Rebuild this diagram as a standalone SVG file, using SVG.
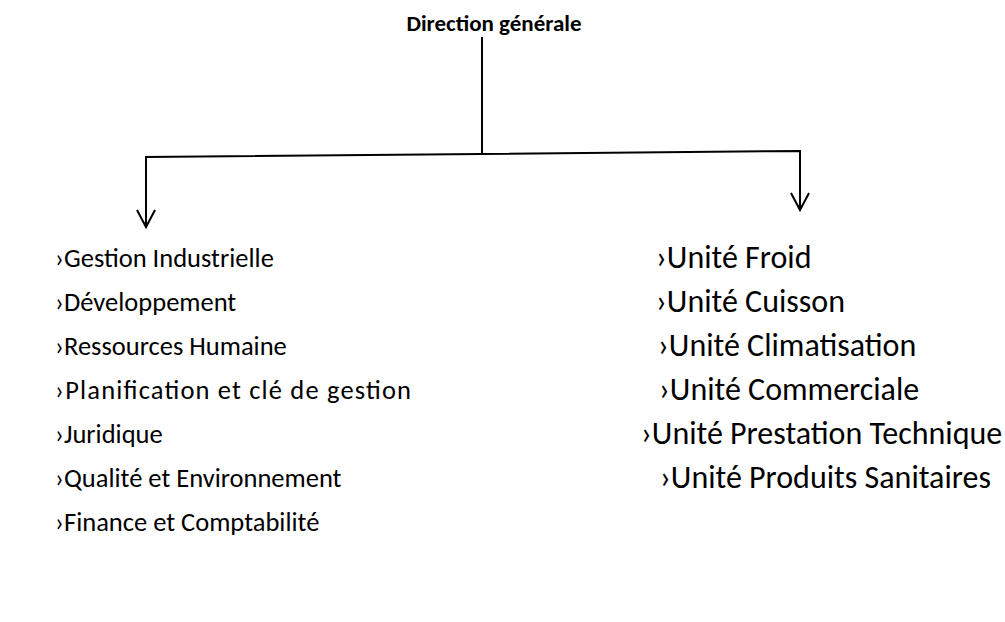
<svg xmlns="http://www.w3.org/2000/svg" width="1005" height="622" viewBox="0 0 1005 622">
<style>
.t{font-family:Carlito,"Open Sans","Liberation Sans",sans-serif;font-size:26.5px;fill:#000}
.r{font-size:32px}
.h{font-family:Carlito,"Open Sans","Liberation Sans",sans-serif;font-size:23px;font-weight:bold;fill:#000}
.c{stroke:#000;stroke-width:2;fill:none}
</style>
<rect width="1005" height="622" fill="#fff"/>
<g id="root"><text class="h" x="494" y="31" text-anchor="middle">Direction générale</text></g>
<g id="connectors">
<path class="c" d="M482 37 V154"/>
<path class="c" d="M146 227 V157 L800 151 V210"/>
<path class="c" d="M137 210 L146 227 L155 210"/>
<path class="c" d="M791 193 L800 210 L809 193"/>
</g>
<g id="left">
<text class="t" x="55" y="267">›Gestion Industrielle</text>
<text class="t" x="55" y="311">›Développement</text>
<text class="t" x="55" y="355">›Ressources Humaine</text>
<text class="t" x="55" y="399" textLength="356" lengthAdjust="spacing">›Planification et clé de gestion</text>
<text class="t" x="55" y="443">›Juridique</text>
<text class="t" x="55" y="487">›Qualité et Environnement</text>
<text class="t" x="55" y="531">›Finance et Comptabilité</text>
</g>
<g id="right">
<text class="t r" x="656" y="268">›Unité Froid</text>
<text class="t r" x="656" y="312">›Unité Cuisson</text>
<text class="t r" x="658" y="356">›Unité Climatisation</text>
<text class="t r" x="659" y="400">›Unité Commerciale</text>
<text class="t r" x="641" y="444">›Unité Prestation Technique</text>
<text class="t r" x="660" y="488">›Unité Produits Sanitaires</text>
</g>
</svg>
